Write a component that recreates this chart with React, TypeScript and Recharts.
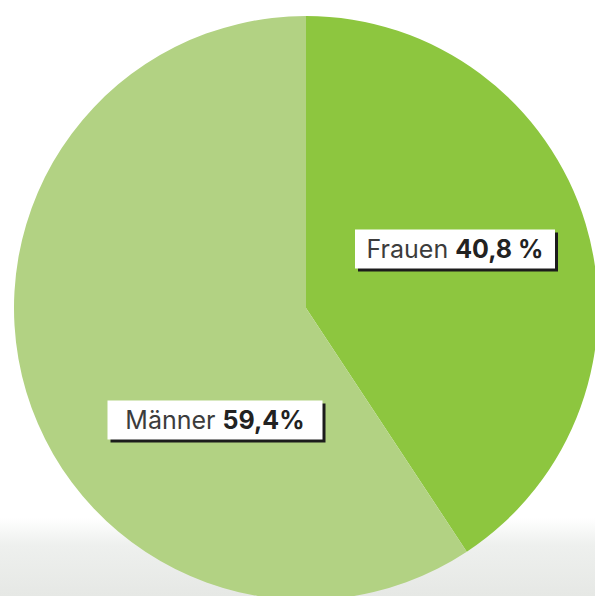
import { PieChart, Pie, Cell } from 'recharts';

const categories = ['Frauen', 'Männer'];
const shares = [40.8, 59.4];
const shareLabels = ['40,8 %', '59,4%'];
const sliceColors = ['#8dc63f', '#b2d283'];

const data = categories.map((name, i) => ({ name, value: shares[i], display: shareLabels[i] }));

// label boxes sit at fixed offsets from the pie centre
const LABEL_BOXES = [
  { dx: 149, dy: -59, w: 200 },
  { dx: -91, dy: 112, w: 215 },
];
const BOX_H = 39;

const CX = 306;
const CY = 308;

function renderLabel(props: any) {
  const { index } = props;
  const cx = props.cx ?? CX;
  const cy = props.cy ?? CY;
  const box = LABEL_BOXES[index];
  const x = cx + box.dx;
  const y = cy + box.dy;
  const left = x - box.w / 2;
  const top = y - BOX_H / 2;
  return (
    <g>
      <rect x={left + 3} y={top + 3} width={box.w} height={BOX_H} fill="#1c1c1c" />
      <rect x={left} y={top} width={box.w} height={BOX_H} fill="#ffffff" />
      <text x={x} y={y + 9} textAnchor="middle" fontFamily="Inter, sans-serif" fontSize={25}>
        <tspan fill="#3c3c3c" fontWeight={400}>{data[index].name} </tspan>
        <tspan fill="#222222" fontWeight={700}>{data[index].display}</tspan>
      </text>
    </g>
  );
}

export default function App() {
  return (
    <div
      style={{
        width: 595,
        height: 596,
        background: 'linear-gradient(to bottom, #ffffff 0px, #ffffff 518px, #eef0ee 545px, #e6e8e5 596px)',
      }}
    >
      <style>{'body { margin: 0; }'}</style>
      <PieChart width={595} height={596} margin={{ top: 0, right: 0, bottom: 0, left: 0 }}>
        <Pie
          data={data}
          dataKey="value"
          nameKey="name"
          cx={CX}
          cy={CY}
          outerRadius={292}
          startAngle={90}
          endAngle={-270}
          stroke="none"
          labelLine={false}
          label={renderLabel}
          isAnimationActive={false}
        >
          {data.map((d, i) => (
            <Cell key={d.name} fill={sliceColors[i]} />
          ))}
        </Pie>
      </PieChart>
    </div>
  );
}
